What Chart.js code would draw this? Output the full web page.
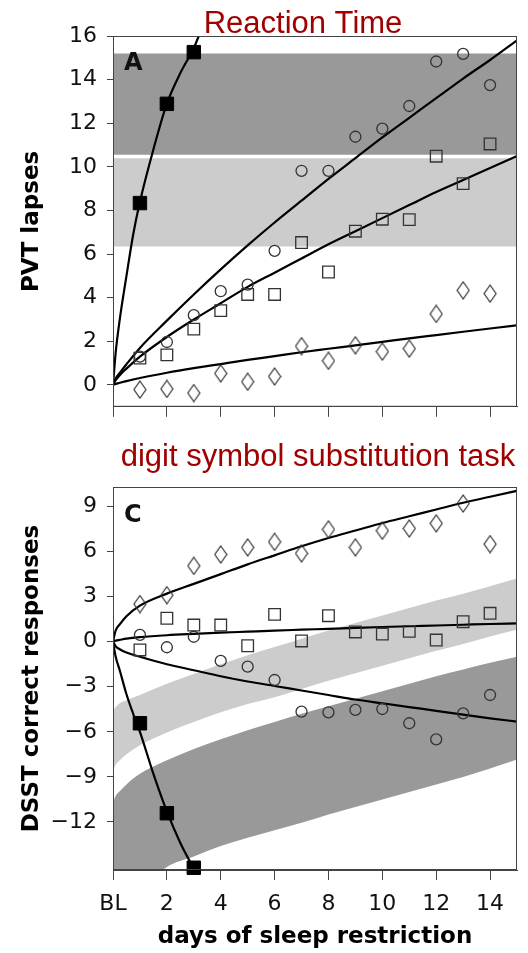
<!DOCTYPE html>
<html>
<head>
<meta charset="utf-8">
<script src="https://cdn.jsdelivr.net/npm/chart.js@4/dist/chart.umd.min.js"></script>
<style>
  html, body { margin: 0; padding: 0; background: #fff; }
  #wrap { position: relative; width: 528px; height: 953px; }
  #wrap canvas { position: absolute; left: 0; }
  #rt { top: 0; }
  #dsst { top: 430px; }
</style>
</head>
<body>
<div id="wrap">
  <canvas id="rt" width="528" height="430"></canvas>
  <canvas id="dsst" width="528" height="523"></canvas>
</div>
<script>
// ---- values ----
const days = [1, 2, 3, 4, 5, 6, 7, 8, 9, 10, 11, 12, 13, 14];
const tsdDays = [1, 2, 3];

const xTickValues = [0, 2, 4, 6, 8, 10, 12, 14];
const xTickLabels = ['BL', '2', '4', '6', '8', '10', '12', '14'];

const pvtTicks = [0, 2, 4, 6, 8, 10, 12, 14, 16];
const pvtTickLabels = ['0', '2', '4', '6', '8', '10', '12', '14', '16'];
const dsstTicks = [-12, -9, -6, -3, 0, 3, 6, 9];
const dsstTickLabels = ['\u221212', '\u22129', '\u22126', '\u22123', '0', '3', '6', '9'];

// Panel A: PVT lapses (TSD = filled squares, 4h = circles, 6h = squares, 8h = diamonds)
const pvtTSD = [8.34, 12.89, 15.26];
const pvt4h = [1.3, 1.97, 3.2, 4.3, 4.6, 6.15, 9.82, 9.82, 11.38, 11.75, 12.79, 14.83, 15.18, 13.75];
const pvt6h = [1.23, 1.38, 2.56, 3.41, 4.15, 4.15, 6.53, 5.18, 7.05, 7.6, 7.58, 10.49, 9.23, 11.05];
const pvt8h = [-0.21, -0.18, -0.37, 0.53, 0.15, 0.39, 1.78, 1.11, 1.82, 1.53, 1.67, 3.26, 4.34, 4.19];

// fitted curves, sampled along these days
const fitX = [0, 0.1, 0.25, 0.5, 1, 2, 3, 4, 5, 6, 7, 8, 9, 10, 11, 12, 13, 14, 15];
const tsdFitX = [0, 0.1, 0.25, 0.5, 0.75, 1, 1.5, 2, 2.5, 3, 3.25];

const pvtFitTSD = [0, 1.5, 3.0, 5.0, 6.9, 8.4, 10.8, 12.9, 14.3, 15.45, 16.2];
const pvtFit4h = [0, 0.3, 0.55, 0.95, 1.7, 2.95, 4.15, 5.3, 6.4, 7.45, 8.45, 9.45, 10.4, 11.35, 12.25, 13.15, 14.05, 14.9, 15.8];
const pvtFit6h = [0, 0.22, 0.45, 0.75, 1.3, 2.2, 3.0, 3.75, 4.5, 5.15, 5.8, 6.45, 7.05, 7.65, 8.25, 8.85, 9.4, 9.95, 10.5];
const pvtFit8h = [0, 0.05, 0.1, 0.18, 0.32, 0.56, 0.77, 0.96, 1.15, 1.32, 1.5, 1.66, 1.82, 1.98, 2.14, 2.29, 2.44, 2.59, 2.74];

// reference bands (1 night / 2 nights of total sleep deprivation)
const pvtBandDark = [10.55, 15.2];
const pvtBandLight = [6.35, 10.4];

// Panel C: DSST correct responses
const dsstTSD = [-5.43, -11.42, -15.05];
const dsst4h = [0.45, -0.37, 0.33, -1.28, -1.66, -2.55, -4.66, -4.7, -4.54, -4.48, -5.43, -6.5, -4.77, -3.55];
const dsst6h = [-0.55, 1.56, 1.11, 1.11, -0.27, 1.82, 0.05, 1.73, 0.65, 0.51, 0.69, 0.11, 1.33, 1.89];
const dsst8h = [2.51, 3.1, 5.05, 5.81, 6.28, 6.65, 5.88, 7.48, 6.28, 7.39, 7.54, 7.88, 9.2, 6.5];

const dsstFitTSD = [0, -1.0, -1.9, -3.5, -4.8, -6.0, -8.8, -11.3, -13.4, -15.1, -15.9];
const dsstFit4h = [0, -0.3, -0.5, -0.72, -1.0, -1.5, -1.9, -2.3, -2.65, -2.95, -3.25, -3.55, -3.85, -4.1, -4.35, -4.6, -4.85, -5.1, -5.32];
const dsstFit6h = [0, 0.07, 0.12, 0.2, 0.3, 0.43, 0.52, 0.6, 0.67, 0.74, 0.8, 0.86, 0.92, 0.98, 1.03, 1.08, 1.13, 1.18, 1.22];
const dsstFit8h = [0, 0.75, 1.15, 1.7, 2.4, 3.2, 3.85, 4.5, 5.15, 5.75, 6.35, 6.9, 7.4, 7.9, 8.35, 8.8, 9.25, 9.65, 10.05];

const dsstLightTop = [-4.6, -4.35, -4.1, -3.9, -3.55, -2.8, -2.15, -1.5, -0.9, -0.35, 0.2, 0.75, 1.25, 1.75, 2.25, 2.75, 3.2, 3.7, 4.2];
const dsstLightBot = [-8.6, -8.2, -7.9, -7.5, -6.9, -6.05, -5.35, -4.7, -4.15, -3.7, -3.15, -2.6, -2.1, -1.6, -1.1, -0.6, -0.15, 0.35, 0.8];
const dsstDarkTop = [-10.7, -10.25, -9.95, -9.5, -8.8, -7.9, -7.15, -6.5, -5.9, -5.35, -4.8, -4.3, -3.8, -3.3, -2.8, -2.3, -1.85, -1.4, -1.0];
const dsstDarkBot = [-19, -18.5, -18, -17.4, -16.6, -15.0, -14.3, -13.6, -13.05, -12.55, -12.05, -11.5, -11.0, -10.5, -10.0, -9.5, -9.0, -8.45, -7.85];

// ---- styling ----
const DARK = '#999999';
const LIGHT = '#cccccc';
const INK = '#333333';
const FRAME = '#444444';
const TITLE_RED = '#a00000';
const X_MIN = 0, X_MAX = 15;

const pts = (xs, ys) => xs.map((x, i) => ({ x: x, y: ys[i] }));

// tall open diamond marker used for the 8h condition
function diamondMarker() {
  const c = document.createElement('canvas');
  c.width = 14; c.height = 19;
  const g = c.getContext('2d');
  g.strokeStyle = INK;
  g.lineWidth = 1.2;
  g.beginPath();
  g.moveTo(7, 1); g.lineTo(13, 9.5); g.lineTo(7, 18); g.lineTo(1, 9.5);
  g.closePath();
  g.stroke();
  return c;
}
const DIAMOND = diamondMarker();

// filled band = upper edge filled down to the lower edge (next dataset)
function band(xs, upper, lower, color) {
  const edge = { type: 'line', pointRadius: 0, borderColor: 'rgba(0,0,0,0)', borderWidth: 1, cubicInterpolationMode: 'monotone', order: 10 };
  return [
    Object.assign({}, edge, { data: pts(xs, upper), fill: '+1', backgroundColor: color }),
    Object.assign({}, edge, { data: pts(xs, lower), fill: false })
  ];
}

function curve(xs, ys) {
  return {
    type: 'line', data: pts(xs, ys), borderColor: '#000', borderWidth: 2.2,
    pointRadius: 0, fill: false, cubicInterpolationMode: 'monotone', order: 5
  };
}

function markers(xs, ys, kind) {
  const base = { type: 'line', data: pts(xs, ys), showLine: false, fill: false, clip: false, order: 1, borderWidth: 1.3, borderColor: INK, backgroundColor: 'rgba(0,0,0,0)' };
  if (kind === 'tsd') return Object.assign(base, { pointStyle: 'rect', pointRadius: 9.5, backgroundColor: '#000', borderColor: '#000', borderWidth: 1 });
  if (kind === 'circle') return Object.assign(base, { pointStyle: 'circle', pointRadius: 5.5 });
  if (kind === 'square') return Object.assign(base, { pointStyle: 'rect', pointRadius: 8.2 });
  return Object.assign(base, { pointStyle: DIAMOND, pointRadius: 8 });
}

// frame, panel letter and red heading
const panelDecor = {
  id: 'panelDecor',
  afterDatasetsDraw(chart, args, opts) {
    const { ctx, chartArea: a } = chart;
    ctx.save();
    ctx.strokeStyle = FRAME;
    ctx.lineWidth = 1;
    ctx.strokeRect(a.left + 0.5, a.top + 0.5, a.right - a.left - 1, a.bottom - a.top - 1);

    ctx.fillStyle = '#111';
    ctx.font = 'bold 24px "DejaVu Sans"';
    ctx.textBaseline = 'alphabetic';
    ctx.textAlign = 'left';
    ctx.fillText(opts.letter, a.left + 11, a.top + opts.letterDy);

    ctx.fillStyle = TITLE_RED;
    ctx.font = '31px "Liberation Sans"';
    ctx.textAlign = 'center';
    ctx.fillText(opts.heading, opts.headingX, opts.headingY);
    ctx.restore();
  }
};

const tickFont = { family: 'DejaVu Sans', size: 22 };
const axisTitleFont = { family: 'DejaVu Sans', size: 23, weight: 'bold' };

function xScale(withLabels, height) {
  return {
    type: 'linear', min: X_MIN, max: X_MAX,
    afterBuildTicks: s => { s.ticks = xTickValues.map(v => ({ value: v })); },
    afterFit: s => { s.height = height; },
    grid: { drawOnChartArea: false, drawTicks: true, tickLength: 10, color: FRAME, lineWidth: 1 },
    border: { display: true, color: FRAME, width: 1 },
    ticks: {
      autoSkip: false, maxRotation: 0, padding: 11, color: '#111', font: tickFont,
      callback: (v, i) => withLabels ? xTickLabels[i] : ''
    },
    title: {
      display: withLabels, text: 'days of sleep restriction', color: '#000',
      font: axisTitleFont, padding: { top: 0, bottom: 2 }
    }
  };
}

function yScale(min, max, ticks, labels, title) {
  return {
    type: 'linear', min: min, max: max,
    afterBuildTicks: s => { s.ticks = ticks.map(v => ({ value: v })); },
    afterFit: s => { s.width = 113; },
    grid: { drawOnChartArea: false, drawTicks: true, tickLength: 6, color: FRAME, lineWidth: 1 },
    border: { display: true, color: FRAME, width: 1 },
    ticks: { autoSkip: false, padding: 10, color: '#111', font: tickFont, callback: (v, i) => labels[i] },
    title: { display: true, text: title, color: '#000', font: axisTitleFont, padding: { top: 18, bottom: 0 } }
  };
}

function baseOptions(padTop, scales, decor) {
  return {
    responsive: false,
    animation: false,
    layout: { padding: { top: padTop, right: 11, left: 0, bottom: 0 } },
    plugins: { legend: { display: false }, tooltip: { enabled: false }, panelDecor: decor },
    scales: scales
  };
}

// ---- panel A: reaction time ----
new Chart(document.getElementById('rt'), {
  type: 'line',
  data: {
    datasets: [
      ...band([X_MIN, X_MAX], [pvtBandDark[1], pvtBandDark[1]], [pvtBandDark[0], pvtBandDark[0]], DARK),
      ...band([X_MIN, X_MAX], [pvtBandLight[1], pvtBandLight[1]], [pvtBandLight[0], pvtBandLight[0]], LIGHT),
      curve(tsdFitX, pvtFitTSD),
      curve(fitX, pvtFit4h),
      curve(fitX, pvtFit6h),
      curve(fitX, pvtFit8h),
      markers(tsdDays, pvtTSD, 'tsd'),
      markers(days, pvt4h, 'circle'),
      markers(days, pvt6h, 'square'),
      markers(days, pvt8h, 'diamond')
    ]
  },
  options: baseOptions(36, {
    x: xScale(false, 12),
    y: yScale(-1, 16, pvtTicks, pvtTickLabels, 'PVT lapses')
  }, { letter: 'A', letterDy: 34, heading: 'Reaction Time', headingX: 303, headingY: 33 }),
  plugins: [panelDecor]
});

// ---- panel C: digit symbol substitution task ----
new Chart(document.getElementById('dsst'), {
  type: 'line',
  data: {
    datasets: [
      ...band(fitX, dsstLightTop, dsstLightBot, LIGHT),
      ...band(fitX, dsstDarkTop, dsstDarkBot, DARK),
      curve(tsdFitX, dsstFitTSD),
      curve(fitX, dsstFit4h),
      curve(fitX, dsstFit6h),
      curve(fitX, dsstFit8h),
      markers(tsdDays, dsstTSD, 'tsd'),
      markers(days, dsst4h, 'circle'),
      markers(days, dsst6h, 'square'),
      markers(days, dsst8h, 'diamond')
    ]
  },
  options: baseOptions(57, {
    x: xScale(true, 83),
    y: yScale(-15.2, 10.3, dsstTicks, dsstTickLabels, 'DSST correct responses')
  }, { letter: 'C', letterDy: 35, heading: 'digit symbol substitution task', headingX: 318, headingY: 36 }),
  plugins: [panelDecor]
});
</script>
</body>
</html>
